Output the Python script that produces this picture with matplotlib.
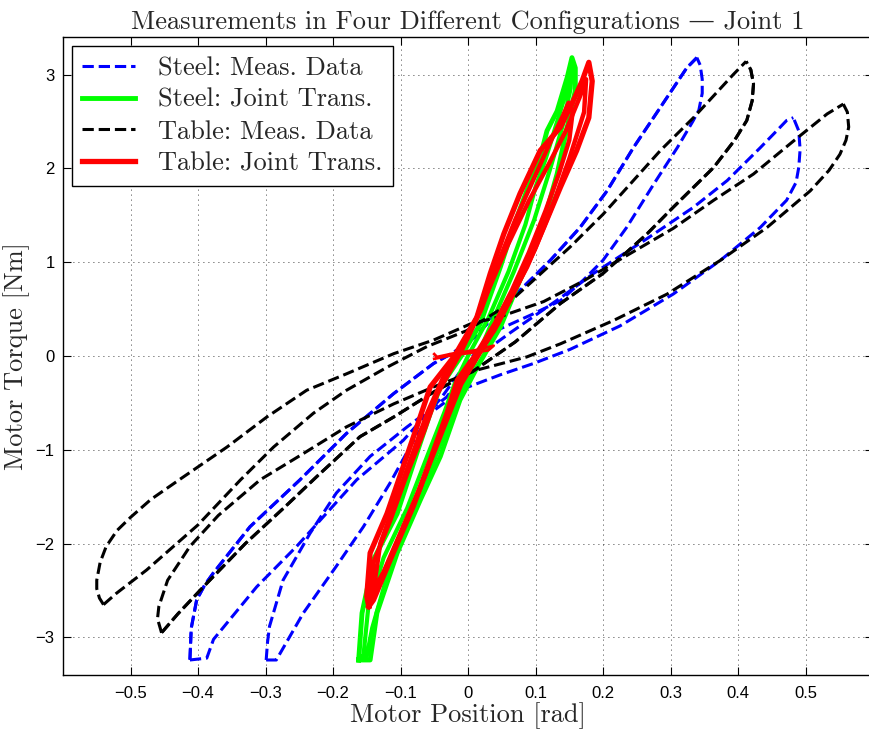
import numpy as np
import matplotlib.pyplot as plt

# ---- data (x = motor position [rad], y = motor torque [Nm]) ----

# Steel: measured data (blue, dashed) - four branches running from the troughs to the peaks
steel_meas_1 = [(-0.412, -3.24), (-0.410, -2.90), (-0.402, -2.60), (-0.390, -2.44), (-0.377, -2.31),
                (-0.323, -1.82), (-0.249, -1.32), (-0.180, -0.825), (-0.110, -0.40), (-0.051, -0.08),
                (-0.021, 0.04), (0.010, 0.20), (0.038, 0.42), (0.077, 0.70), (0.122, 1.02),
                (0.166, 1.37), (0.206, 1.76), (0.245, 2.22), (0.285, 2.65), (0.324, 3.07),
                (0.339, 3.18)]
steel_meas_2 = [(-0.412, -3.24), (-0.387, -3.22), (-0.377, -3.02), (-0.353, -2.81), (-0.313, -2.46),
                (-0.254, -2.03), (-0.165, -1.32), (-0.096, -0.90), (-0.040, -0.45), (0.000, -0.05),
                (0.048, 0.29), (0.097, 0.45), (0.137, 0.59), (0.171, 0.81), (0.200, 1.02),
                (0.235, 1.37), (0.275, 1.83), (0.310, 2.22), (0.333, 2.50), (0.342, 2.62),
                (0.347, 2.80), (0.347, 2.95), (0.344, 3.10), (0.339, 3.18)]
steel_meas_3 = [(-0.299, -3.24), (-0.297, -3.05), (-0.294, -2.88), (-0.274, -2.39), (-0.234, -1.89),
                (-0.195, -1.46), (-0.145, -1.07), (-0.091, -0.76), (-0.032, -0.44), (0.015, 0.00),
                (0.063, 0.25), (0.137, 0.62), (0.186, 0.88), (0.265, 1.25), (0.334, 1.585),
                (0.384, 1.87), (0.433, 2.22), (0.460, 2.42), (0.472, 2.51), (0.482, 2.54)]
steel_meas_4 = [(-0.299, -3.24), (-0.284, -3.24), (-0.244, -2.74), (-0.195, -2.24), (-0.155, -1.82),
                (-0.116, -1.36), (-0.086, -0.97), (-0.056, -0.61), (-0.007, -0.35), (0.048, -0.20),
                (0.097, -0.08), (0.151, 0.07), (0.225, 0.32), (0.304, 0.66), (0.374, 1.02),
                (0.433, 1.37), (0.472, 1.66), (0.486, 1.85), (0.490, 2.01), (0.492, 2.20),
                (0.490, 2.40), (0.482, 2.54)]

# Steel: joint transmission model (green, solid) - closed narrow loops
steel_joint_1 = [(-0.162, -3.24), (-0.157, -2.74), (-0.140, -2.17), (-0.105, -1.68), (-0.076, -1.04),
                 (-0.056, -0.61), (-0.041, -0.33), (-0.010, 0.00), (0.018, 0.34), (0.048, 0.95),
                 (0.067, 1.37), (0.087, 1.76), (0.107, 2.12), (0.117, 2.40), (0.132, 2.61),
                 (0.147, 2.97), (0.154, 3.18), (0.159, 3.07), (0.159, 2.83), (0.147, 2.44),
                 (0.132, 1.94), (0.107, 1.30), (0.077, 0.81), (0.048, 0.31), (0.015, -0.10),
                 (-0.012, -0.47), (-0.041, -1.07), (-0.071, -1.54), (-0.105, -2.10), (-0.135, -2.74),
                 (-0.145, -3.24), (-0.162, -3.24)]
steel_joint_2 = [(-0.155, -3.20), (-0.148, -2.70), (-0.125, -2.15), (-0.090, -1.62), (-0.060, -1.06),
                 (-0.035, -0.60), (-0.020, -0.30), (0.000, 0.00), (0.030, 0.40), (0.060, 0.90),
                 (0.085, 1.40), (0.100, 1.80), (0.115, 2.10), (0.130, 2.45), (0.145, 2.80),
                 (0.154, 3.10), (0.152, 2.85), (0.140, 2.45), (0.122, 2.00), (0.098, 1.45),
                 (0.068, 0.90), (0.035, 0.35), (0.005, -0.15), (-0.025, -0.65), (-0.055, -1.20),
                 (-0.088, -1.75), (-0.120, -2.35), (-0.142, -2.90), (-0.150, -3.20), (-0.155, -3.20)]

# Table: measured data (black, dashed)
table_meas_1 = [(-0.540, -2.65), (-0.546, -2.58), (-0.550, -2.48), (-0.550, -2.39), (-0.545, -2.20),
                (-0.536, -2.03), (-0.520, -1.86), (-0.500, -1.72), (-0.470, -1.53), (-0.430, -1.33),
                (-0.357, -0.97), (-0.298, -0.65), (-0.239, -0.365), (-0.180, -0.19),
                (-0.110, 0.025), (-0.051, 0.17), (0.003, 0.34), (0.048, 0.42), (0.112, 0.58),
                (0.171, 0.80), (0.235, 1.07), (0.304, 1.36), (0.364, 1.66), (0.423, 1.94),
                (0.482, 2.29), (0.532, 2.58), (0.556, 2.685)]
table_meas_2 = [(-0.540, -2.65), (-0.521, -2.53), (-0.476, -2.28), (-0.400, -1.80), (-0.337, -1.32),
                (-0.288, -0.97), (-0.229, -0.61), (-0.180, -0.365), (-0.120, -0.12), (-0.061, 0.10),
                (-0.002, 0.27), (0.053, 0.52), (0.102, 0.84), (0.151, 1.16), (0.200, 1.51),
                (0.245, 1.87), (0.285, 2.19), (0.334, 2.54), (0.393, 3.00), (0.412, 3.14)]
table_meas_3 = [(-0.454, -2.95), (-0.460, -2.80), (-0.458, -2.67), (-0.445, -2.39), (-0.412, -2.03),
                (-0.370, -1.70), (-0.308, -1.32), (-0.244, -1.04), (-0.180, -0.755), (-0.110, -0.51),
                (-0.051, -0.33), (0.013, -0.15), (0.087, -0.01), (0.137, 0.13), (0.216, 0.38),
                (0.295, 0.66), (0.374, 1.02), (0.443, 1.37), (0.507, 1.76), (0.535, 1.98),
                (0.551, 2.15), (0.560, 2.30), (0.564, 2.44), (0.562, 2.60), (0.556, 2.685)]
table_meas_4 = [(-0.454, -2.95), (-0.430, -2.75), (-0.392, -2.46), (-0.330, -2.00), (-0.270, -1.60),
                (-0.224, -1.285), (-0.160, -0.86), (-0.110, -0.65), (-0.050, -0.38), (0.010, -0.15),
                (0.070, 0.15), (0.137, 0.56), (0.200, 0.88), (0.265, 1.30), (0.304, 1.585),
                (0.364, 2.01), (0.395, 2.30), (0.413, 2.51), (0.421, 2.72), (0.423, 2.90),
                (0.419, 3.05), (0.412, 3.14)]

# Table: joint transmission model (red, solid) - closed loops
table_joint_1 = [(-0.147, -2.67), (-0.150, -2.56), (-0.145, -2.10), (-0.120, -1.68), (-0.096, -1.18),
                 (-0.076, -0.76), (-0.056, -0.33), (-0.020, 0.00), (0.013, 0.41), (0.033, 0.88),
                 (0.053, 1.30), (0.077, 1.73), (0.107, 2.19), (0.137, 2.44), (0.154, 2.69),
                 (0.169, 2.93), (0.179, 3.13), (0.184, 2.93), (0.179, 2.54), (0.161, 2.19),
                 (0.137, 1.80), (0.112, 1.37), (0.087, 0.95), (0.058, 0.56), (0.038, 0.27),
                 (0.000, -0.10), (-0.016, -0.26), (-0.031, -0.61), (-0.056, -1.11), (-0.081, -1.60),
                 (-0.115, -2.17), (-0.140, -2.60), (-0.147, -2.67)]
table_joint_2 = [(-0.145, -2.60), (-0.140, -2.20), (-0.115, -1.75), (-0.090, -1.25), (-0.065, -0.80),
                 (-0.045, -0.40), (-0.010, 0.05), (0.020, 0.50), (0.045, 1.00), (0.070, 1.45),
                 (0.095, 1.85), (0.120, 2.25), (0.140, 2.55), (0.149, 2.70), (0.155, 2.60),
                 (0.150, 2.30), (0.135, 1.95), (0.115, 1.55), (0.090, 1.10), (0.065, 0.70),
                 (0.040, 0.35), (0.010, 0.00), (-0.020, -0.40), (-0.045, -0.90), (-0.070, -1.40),
                 (-0.100, -1.90), (-0.130, -2.40), (-0.145, -2.60)]
table_joint_3 = [(-0.140, -2.50), (-0.130, -2.00), (-0.105, -1.50), (-0.080, -1.00), (-0.060, -0.60),
                 (-0.035, -0.20), (0.000, 0.20), (0.030, 0.70), (0.060, 1.20), (0.090, 1.65),
                 (0.120, 2.05), (0.145, 2.40), (0.165, 2.75), (0.175, 2.95), (0.172, 2.60),
                 (0.150, 2.10), (0.125, 1.60), (0.100, 1.15), (0.070, 0.70), (0.045, 0.35),
                 (0.015, 0.00), (-0.010, -0.30), (-0.035, -0.75), (-0.065, -1.30), (-0.095, -1.80),
                 (-0.125, -2.30), (-0.140, -2.50)]
table_joint_4 = [(-0.050, 0.02), (-0.046, -0.01), (-0.020, 0.03), (0.010, 0.06), (0.038, 0.11),
                 (0.030, 0.06), (0.000, 0.03), (-0.030, 0.00), (-0.050, -0.03)]

xticks = [-0.5, -0.4, -0.3, -0.2, -0.1, 0, 0.1, 0.2, 0.3, 0.4, 0.5]
xtick_labels = ['\u22120.5', '\u22120.4', '\u22120.3', '\u22120.2', '\u22120.1', '0',
                '0.1', '0.2', '0.3', '0.4', '0.5']
yticks = [-3, -2, -1, 0, 1, 2, 3]
ytick_labels = ['\u22123', '\u22122', '\u22121', '0', '1', '2', '3']

serif = ['cmr10', 'DejaVu Serif']
txt_color = '#262626'


def draw(ax, pts, color, ls='-', lw=2.2, label=None):
    pts = np.array(pts)
    ax.plot(pts[:, 0], pts[:, 1], color=color, linestyle=ls, linewidth=lw,
            label=label, solid_joinstyle='round', dash_joinstyle='round',
            dash_capstyle='butt')


fig = plt.figure(figsize=(8.69, 7.30), dpi=100)
ax = fig.add_axes([63 / 869, 55 / 730, 810 / 869, 638 / 730])

blue = '#0000ff'
green = '#00ff00'
red = '#ff0000'

# blue first, then green, black, red (same order as the legend)
draw(ax, steel_meas_1, blue, '--', label='Steel: Meas. Data')
draw(ax, steel_meas_1, blue, (5, (3.7, 1.6)))
for b in [steel_meas_2, steel_meas_3, steel_meas_4]:
    draw(ax, b, blue, '--')

draw(ax, steel_joint_1, green, '-', lw=3.5, label='Steel: Joint Trans.')
draw(ax, steel_joint_2, green, '-', lw=3.0)

draw(ax, table_meas_1, 'k', '--', label='Table: Meas. Data')
for b in [table_meas_2, table_meas_3, table_meas_4]:
    draw(ax, b, 'k', '--')
draw(ax, table_meas_4, 'k', (5, (3.7, 1.6)))

draw(ax, table_joint_1, red, '-', lw=3.8, label='Table: Joint Trans.')
for b in [table_joint_2, table_joint_3]:
    draw(ax, b, red, '-', lw=3.2)
draw(ax, table_joint_4, red, '-', lw=2.0)

ax.set_xlim(-0.6, 0.6)
ax.set_ylim(-3.4, 3.4)
ax.set_xticks(xticks)
ax.set_xticklabels(xtick_labels, fontfamily='Liberation Sans')
ax.set_yticks(yticks)
ax.set_yticklabels(ytick_labels, fontfamily='Liberation Sans')
ax.tick_params(direction='in', top=True, right=True, length=6, width=0.8,
               labelsize=12, colors='k', pad=6)
ax.tick_params(axis='x', pad=8)
for s in ax.spines.values():
    s.set_linewidth(1.0)
ax.grid(True, color='k', linestyle=(0, (1, 5)), linewidth=0.6)
ax.set_axisbelow(True)

ax.set_title('Measurements in Four Different Configurations \u2014 Joint 1',
             fontfamily=serif, fontsize=19, color=txt_color, pad=6)
ax.set_xlabel('Motor Position [rad]', fontfamily=serif, fontsize=19,
              color=txt_color, labelpad=1)
ax.set_ylabel('Motor Torque [Nm]', fontfamily=serif, fontsize=19,
              color=txt_color, labelpad=4)

leg = ax.legend(loc='upper left', bbox_to_anchor=(0.011, 0.986), prop={'family': serif, 'size': 19},
                fancybox=False, framealpha=1, edgecolor='k', borderpad=0.4,
                labelspacing=0.3, handlelength=2.0, handletextpad=0.85, borderaxespad=0)
leg.get_frame().set_linewidth(1.0)
for t in leg.get_texts():
    t.set_color(txt_color)

fig.savefig('out.png', dpi=100)
